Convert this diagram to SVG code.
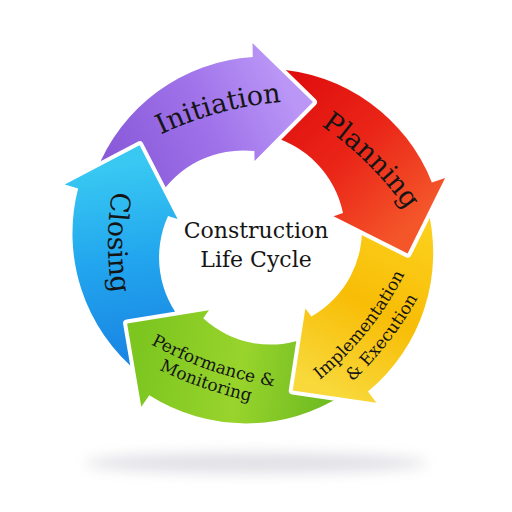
<svg xmlns="http://www.w3.org/2000/svg" width="512" height="512" viewBox="0 0 512 512">
<style>
.arrow{stroke:#ffffff;stroke-width:8;stroke-linejoin:round;paint-order:stroke}
.lbl{font-family:"DejaVu Serif","Liberation Serif",serif;fill:#151515;text-anchor:middle}
.big{font-size:27px}
.small{font-size:17px}
.center{font-family:"DejaVu Serif","Liberation Serif",serif;fill:#151515;font-size:22px;text-anchor:middle}
</style>
<defs>
<path id="shape" d="M73.96,-158.6 A180,180 0 0 1 186,0 L200,0 L139.9,59.4 L82,0 L92,0 A100,100 0 0 0 45.64,-97.88 Z"/>
<linearGradient id="gPurple" gradientUnits="userSpaceOnUse" x1="60" y1="-128" x2="140" y2="40">
<stop offset="0" stop-color="#8a5ad9"/><stop offset="0.55" stop-color="#a073ea"/><stop offset="1" stop-color="#ba96f6"/>
</linearGradient>
<linearGradient id="gRed" gradientUnits="userSpaceOnUse" x1="60" y1="-128" x2="140" y2="40">
<stop offset="0" stop-color="#e00f0e"/><stop offset="0.5" stop-color="#ea2618"/><stop offset="1" stop-color="#f4562a"/>
</linearGradient>
<linearGradient id="gYellow" gradientUnits="userSpaceOnUse" x1="60" y1="-128" x2="140" y2="40">
<stop offset="0" stop-color="#fbcf1c"/><stop offset="0.5" stop-color="#f8bd06"/><stop offset="1" stop-color="#f8d83a"/>
</linearGradient>
<linearGradient id="gGreen" gradientUnits="userSpaceOnUse" x1="60" y1="-128" x2="140" y2="40">
<stop offset="0" stop-color="#72bd22"/><stop offset="0.45" stop-color="#98d42c"/><stop offset="1" stop-color="#7dc620"/>
</linearGradient>
<linearGradient id="gBlue" gradientUnits="userSpaceOnUse" x1="60" y1="-128" x2="140" y2="40">
<stop offset="0" stop-color="#1a87e4"/><stop offset="0.5" stop-color="#22a6ee"/><stop offset="1" stop-color="#38c8f2"/>
</linearGradient>
<filter id="blur" x="-20%" y="-200%" width="140%" height="500%"><feGaussianBlur stdDeviation="7"/></filter>
<mask id="mPlan" maskUnits="userSpaceOnUse" x="0" y="0" width="512" height="512">
<rect width="512" height="512" fill="#ffffff"/>
<path d="M200,0 L139.9,59.4 L82,0 Z" transform="translate(256,243) rotate(-91)" fill="#000000" stroke="#000000" stroke-width="8" stroke-linejoin="round"/>
</mask>
<path id="tInit" d="M130,151 A350,350 0 0 1 316.3,100.7"/>
<path id="tPlan" d="M291.7,107.6 A340,340 0 0 1 424.9,239.4"/>
<path id="tClose" d="M119.6,159.8 A300,300 0 0 0 119.6,325.2"/>
<path id="tImp1" d="M300.8,394.4 A330,330 0 0 0 414.5,252.4"/>
<path id="tImp2" d="M317.6,410.7 A353,353 0 0 0 437.4,257.3"/>
<path id="tPerf1" d="M123.4,328 A398,398 0 0 0 305.6,390.3"/>
<path id="tPerf2" d="M118.6,347.4 A417,417 0 0 0 296,408.5"/>
</defs>

<ellipse id="shadow" cx="256" cy="463" rx="172" ry="10" fill="#e0e0e5" filter="url(#blur)"/>

<g id="initiation">
<use href="#shape" class="arrow" fill="url(#gPurple)" transform="translate(256,243) rotate(-91)"/>
<text class="lbl big"><textPath href="#tInit" startOffset="50%">Initiation</textPath></text>
</g>
<g id="closing">
<use href="#shape" class="arrow" fill="url(#gBlue)" transform="translate(256,243) rotate(197)"/>
<text class="lbl big"><textPath href="#tClose" startOffset="50%">Closing</textPath></text>
</g>
<g id="performance">
<use href="#shape" class="arrow" fill="url(#gGreen)" transform="translate(256,243) rotate(125)"/>
<text class="lbl small"><textPath href="#tPerf1" startOffset="50%">Performance &amp;</textPath></text>
<text class="lbl small"><textPath href="#tPerf2" startOffset="50%">Monitoring</textPath></text>
</g>
<g id="implementation">
<use href="#shape" class="arrow" fill="url(#gYellow)" transform="translate(256,243) rotate(53)"/>
<text class="lbl small"><textPath href="#tImp1" startOffset="50%">Implementation</textPath></text>
<text class="lbl small"><textPath href="#tImp2" startOffset="50%">&amp; Execution</textPath></text>
</g>
<g id="planning">
<g mask="url(#mPlan)">
<use href="#shape" class="arrow" fill="url(#gRed)" transform="translate(256,243) rotate(-19)"/>
</g>
<text class="lbl big"><textPath href="#tPlan" startOffset="50%">Planning</textPath></text>
</g>

<g id="title">
<text class="center" x="256" y="238">Construction</text>
<text class="center" x="256" y="267">Life Cycle</text>
</g>
</svg>
